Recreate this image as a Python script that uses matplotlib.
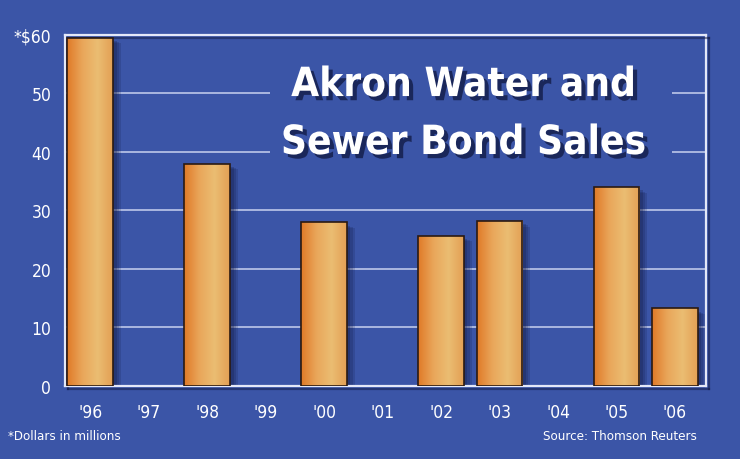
import numpy as np
import matplotlib
matplotlib.use("Agg")
import matplotlib.pyplot as plt
import matplotlib.patheffects as pe
from matplotlib.colors import LinearSegmentedColormap
from matplotlib.patches import Rectangle

# data
years = ["'96", "'97", "'98", "'99", "'00", "'01", "'02", "'03", "'04", "'05", "'06"]
sales = [59.5, 0, 38, 0, 28, 0, 25.7, 28.2, 0, 34, 13.3]
yticks = [0, 10, 20, 30, 40, 50, 60]
ylabels = ["0", "10", "20", "30", "40", "50", "*$60"]
title_lines = ["Akron Water and", "Sewer Bond Sales"]

BG = "#3b55a7"
FONT = dict(family="DejaVu Sans", stretch="condensed")

fig = plt.figure(figsize=(7.4, 4.6), dpi=100, facecolor=BG)
ax = fig.add_axes([0.088, 0.159, 0.866, 0.763])
ax.set_facecolor(BG)

x = np.arange(len(years))
vals = np.array(sales)
has = vals > 0
bars = ax.bar(x[has], vals[has], width=0.78, color="none", edgecolor="#2b1a12",
              linewidth=1.2, zorder=4)

grad = LinearSegmentedColormap.from_list("bar", ["#e07a28", "#e9a65a", "#ebbd72", "#e3a055"])
g = np.linspace(0, 1, 100).reshape(1, -1)
for b in bars:
    x0, w, h = b.get_x(), b.get_width(), b.get_height()
    # soft shadow
    for k, a in zip([0.22, 0.16, 0.10], [0.18, 0.2, 0.25]):
        ax.add_patch(Rectangle((x0 + k * 0.6, -0.3), w, h - k * 3, color="#121a45",
                               alpha=a, lw=0, zorder=2))
    im = ax.imshow(g, cmap=grad, extent=[x0, x0 + w, 0, h], aspect="auto", zorder=3)
    im.set_clip_path(b)

ax.set_xlim(-0.43, 10.53)
ax.set_ylim(0, 60)
ax.set_xticks(x)
ax.set_xticklabels(years)
ax.set_yticks(yticks)
ax.set_yticklabels(ylabels)
ax.tick_params(length=0, colors="white", labelsize=12.5)
ax.tick_params(axis="x", pad=12)
ax.tick_params(axis="y", pad=10)
for lab in ax.get_xticklabels() + ax.get_yticklabels():
    lab.set_family(FONT["family"])
    lab.set_stretch(FONT["stretch"])

ax.yaxis.grid(True, color="#c9d2f0", linewidth=1.1, zorder=1)
ax.set_axisbelow(True)
for s in ax.spines.values():
    s.set_color("#e4e8f8")
    s.set_linewidth(1.6)
    s.set_path_effects([pe.SimpleLineShadow(offset=(2, -2), shadow_color="#101840", alpha=0.5), pe.Normal()])

# box behind the title hides the gridlines there
ax.add_patch(Rectangle((3.08, 35), 6.87, 22, color=BG, lw=0, zorder=1.5))

shadow = [pe.withSimplePatchShadow(offset=(3, -3), shadow_rgbFace="#101840", alpha=0.75)]
for line, yb in zip(title_lines, [0.789, 0.663]):
    fig.text(0.626, yb, line, ha="center", va="baseline", color="white", fontsize=29,
             fontweight="bold", path_effects=shadow, **FONT)

fig.text(0.011, 0.052, "*Dollars in millions", color="white", fontsize=9.5, va="center", **FONT)
fig.text(0.942, 0.052, "Source: Thomson Reuters", color="white", fontsize=9.5,
         va="center", ha="right", **FONT)

fig.savefig("out.png", dpi=100, facecolor=BG)
